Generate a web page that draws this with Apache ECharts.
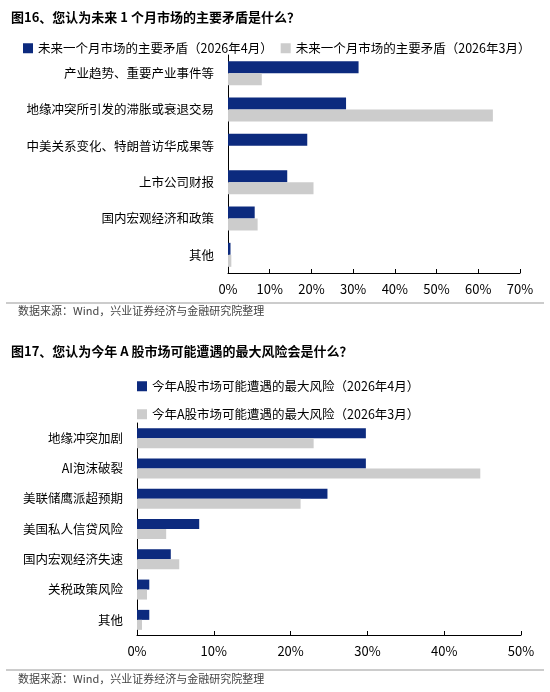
<!DOCTYPE html><html><head><meta charset="utf-8"><script src="https://cdn.jsdelivr.net/npm/echarts@6/dist/echarts.min.js"></script>
<style>body{margin:0}#c{width:550px;height:692px}</style></head><body><div id="c"></div><script>
const cats1=['产业趋势、重要产业事件等','地缘冲突所引发的滞胀或衰退交易','中美关系变化、特朗普访华成果等','上市公司财报','国内宏观经济和政策','其他'];
const apr1=[31.3,28.3,19.0,14.2,6.4,0.6];
const mar1=[8.1,63.5,null,20.5,7.1,0.8];
const cats2=['地缘冲突加剧','AI泡沫破裂','美联储鹰派超预期','美国私人信贷风险','国内宏观经济失速','关税政策风险','其他'];
const apr2=[29.8,29.8,24.8,8.1,4.4,1.6,1.6];
const mar2=[23.0,44.7,21.3,3.8,5.5,1.3,0.65];
const F='"Noto Sans CJK SC",sans-serif';
const c=echarts.init(document.getElementById('c'));
const blue='#0c2a7e',gray='#cccccc';
const xa=(g,max)=>({gridIndex:g,type:'value',min:0,max:max,interval:10,axisLine:{show:true,lineStyle:{color:'#000'}},axisTick:{show:true,inside:true,length:4,lineStyle:{color:'#000'}},splitLine:{show:false},axisLabel:{formatter:'{value}%',color:'#000',fontSize:13,fontFamily:F,margin:10}});
const ya=(g,cats)=>({gridIndex:g,type:'category',data:cats,inverse:true,axisLine:{lineStyle:{color:'#000'}},axisTick:{show:false},axisLabel:{color:'#000',fontSize:12.5,fontFamily:F,margin:14}});
c.setOption({
title:[{text:'图16、您认为未来 1 个月市场的主要矛盾是什么？',left:6,top:6,textStyle:{fontSize:13,fontWeight:'bold',fontFamily:F,color:'#000'}},
{text:'图17、您认为今年 A 股市场可能遭遇的最大风险会是什么？',left:6,top:340,textStyle:{fontSize:13,fontWeight:'bold',fontFamily:F,color:'#000'}}],
legend:[{data:['未来一个月市场的主要矛盾（2026年4月）','未来一个月市场的主要矛盾（2026年3月）'],left:18,top:37,itemWidth:10,itemHeight:10,itemGap:8,textStyle:{fontSize:12.5,fontFamily:F,color:'#000'},icon:'rect'},
{data:['今年A股市场可能遭遇的最大风险（2026年4月）'],left:132,top:375,itemWidth:10,itemHeight:10,textStyle:{fontSize:12.5,fontFamily:F,color:'#000'},icon:'rect'},
{data:['今年A股市场可能遭遇的最大风险（2026年3月）'],left:132,top:403,itemWidth:10,itemHeight:10,textStyle:{fontSize:12.5,fontFamily:F,color:'#000'},icon:'rect'}],
grid:[{left:228,right:30,top:55,bottom:419},{left:137,right:29,top:423,bottom:57}],
xAxis:[xa(0,70),xa(1,50)],yAxis:[ya(0,cats1),ya(1,cats2)],
graphic:[{type:'line',shape:{x1:6,y1:303,x2:544,y2:303},style:{stroke:'#999',lineWidth:1}},
{type:'text',left:18,top:305,style:{text:'数据来源：Wind，兴业证券经济与金融研究院整理',fontSize:11,fontFamily:F,fill:'#444'}},
{type:'line',shape:{x1:6,y1:670,x2:544,y2:670},style:{stroke:'#999',lineWidth:1}},
{type:'text',left:18,top:673,style:{text:'数据来源：Wind，兴业证券经济与金融研究院整理',fontSize:11,fontFamily:F,fill:'#444'}}],
series:[
{name:'未来一个月市场的主要矛盾（2026年4月）',type:'bar',xAxisIndex:0,yAxisIndex:0,data:apr1,barWidth:12,barGap:'0%',itemStyle:{color:blue}},
{name:'未来一个月市场的主要矛盾（2026年3月）',type:'bar',xAxisIndex:0,yAxisIndex:0,data:mar1,barWidth:12,barGap:'0%',itemStyle:{color:gray}},
{name:'今年A股市场可能遭遇的最大风险（2026年4月）',type:'bar',xAxisIndex:1,yAxisIndex:1,data:apr2,barWidth:10,barGap:'0%',itemStyle:{color:blue}},
{name:'今年A股市场可能遭遇的最大风险（2026年3月）',type:'bar',xAxisIndex:1,yAxisIndex:1,data:mar2,barWidth:10,barGap:'0%',itemStyle:{color:gray}}]});
</script></body></html>
